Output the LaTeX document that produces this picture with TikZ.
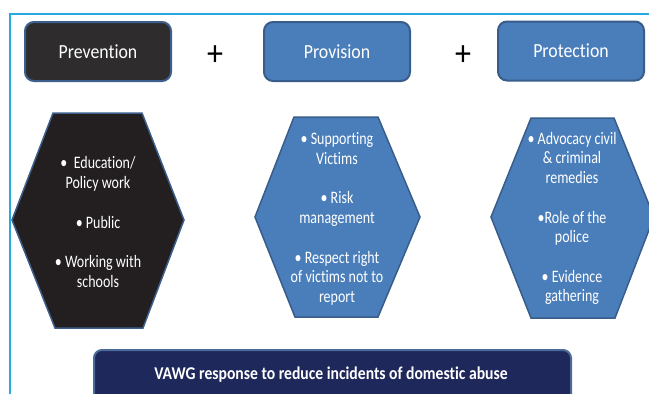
\documentclass[tikz,border=0pt]{standalone}
\usepackage{fontspec}
\setmainfont{Carlito}
\newfontfamily\headfont[FakeStretch=0.89,Ligatures=NoCommon]{Carlito}
\newfontfamily\bodyfont[FakeStretch=0.80,Ligatures=NoCommon]{Carlito}
\newfontfamily\basefont[FakeStretch=0.87,Ligatures=NoCommon]{Carlito}
\definecolor{framecol}{HTML}{29A9E1}
\definecolor{darkbox}{HTML}{2E2C2D}
\definecolor{darkhex}{HTML}{231F20}
\definecolor{darkedge}{HTML}{3C5F8C}
\definecolor{bluefill}{HTML}{4A7EBB}
\definecolor{blueedge}{HTML}{385D8A}
\definecolor{navyfill}{HTML}{1F285A}
\definecolor{navyedge}{HTML}{4A6A9A}
\begin{document}
\begin{tikzpicture}[x=1pt,y=-1pt,
  headbox/.style={rounded corners=9pt, line width=2pt, minimum width=146pt,
    minimum height=59pt, inner sep=0pt, text=white,
    font=\headfont\fontsize{20}{24}\selectfont},
  hexshape/.style={line width=1.5pt, line join=miter},
  hextext/.style={align=center, text=white, inner sep=0pt,
    font=\bodyfont\fontsize{17.5}{19.7}\selectfont},
  plussign/.style={text=black, inner sep=0pt,
    font=\headfont\fontsize{36}{36}\selectfont},
  basebox/.style={rounded corners=8pt, line width=2pt, fill=navyfill,
    draw=navyedge, inner sep=0pt},
  frameline/.style={draw=framecol, line width=2pt}
]
\clip (0,0) rectangle (649,394);

% outer frame, open to the right and bottom
\draw[frameline] (9.5,430) -- (9.5,14) -- (680,14);

% column headings
\node[headbox, fill=darkbox, draw=darkedge] (prevention) at (98,51.5) {Prevention};
\node[headbox, fill=bluefill, draw=blueedge] (provision) at (337,51.5) {Provision};
\node[headbox, fill=bluefill, draw=blueedge] (protection) at (571,51) {Protection};
\node[plussign] (plusA) at (215,56) {+};
\node[plussign] (plusB) at (463,56) {+};

% hexagons
\draw[hexshape, fill=darkhex, draw=darkedge]
  (53,113) -- (142,113) -- (184,220) -- (143,328) -- (55,328) -- (12,220) -- cycle;
\draw[hexshape, fill=bluefill, draw=blueedge]
  (294,117) -- (378,117) -- (420,217) -- (378,317) -- (295,317) -- (255,217) -- cycle;
\draw[hexshape, fill=bluefill, draw=blueedge]
  (531,118) -- (614,118) -- (654,217) -- (615,318) -- (531,318) -- (491,217) -- cycle;

\node[hextext] (prevtext) at (98,222)
  {•\ \ Education/\\Policy work\\[19.7pt]• Public\\[19.7pt]• Working with\\schools};
\node[hextext] (provtext) at (337,219)
  {• Supporting\\Victims\\[19.7pt]• Risk\\management\\[19.7pt]• Respect right\\of victims not to\\report};
\node[hextext] (prottext) at (572,218.5)
  {• Advocacy civil\\\& criminal\\remedies\\[19.7pt]•Role of the\\police\\[19.7pt]• Evidence\\gathering};

% summary bar
\node[basebox, minimum width=477pt, minimum height=80pt, anchor=north west] (base) at (93,349) {};
\node[text=white, inner sep=0pt, font=\basefont\bfseries\fontsize{18}{22}\selectfont]
  (basetext) at (331,375) {VAWG response to reduce incidents of domestic abuse};
\end{tikzpicture}
\end{document}
